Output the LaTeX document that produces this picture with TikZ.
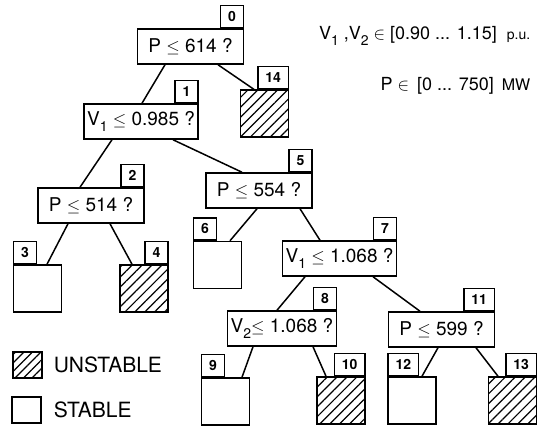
\documentclass[tikz,border=0pt]{standalone}
\usepackage{fontspec}
\setmainfont{TeX Gyre Heros}
\usetikzlibrary{patterns.meta}
\newcommand{\lowidx}[1]{\raisebox{-0.55ex}{\fontsize{14}{14}\selectfont #1}}

\begin{document}
\begin{tikzpicture}[x=1pt,y=1pt,line width=1.5pt]

%styles des noeuds
\tikzset{
    test/.style={draw, rectangle, minimum width=106pt, minimum height=35pt, inner sep=3pt, font=\fontsize{19}{22}\selectfont},
    leaf/.style={draw, rectangle, minimum width=48pt, minimum height=47pt, inner sep=0pt},
    hatch/.style={pattern={Lines[angle=45,distance=7pt,line width=1.2pt]}},
    num/.style={draw, rectangle, minimum height=22pt, inner xsep=7.5pt, inner ysep=1pt, font=\fontsize{14}{14}\selectfont\bfseries}
}

\useasboundingbox (0,0) rectangle (541,427);

%tests
\node[test] (n0) at (190.5,380.5) {P $\leq$ 614 ?};
\node[test] (n1) at (141,305.5) {V\lowidx{1} $\leq$ 0.985 ?};
\node[test] (n2) at (91,221.5) {P $\leq$ 514 ?};
\node[test] (n5) at (259,236.5) {P $\leq$ 554 ?};
\node[test] (n7) at (339.5,168.5) {V\lowidx{1} $\leq$ 1.068 ?};
\node[test] (n8) at (282,98.5) {V\lowidx{2}$\leq$ 1.068 ?};
\node[test] (n11) at (441.5,97.5) {P $\leq$ 599 ?};

%feuilles
\node[leaf,hatch] (t14) at (264.5,313.5) {};
\node[leaf] (t3) at (37.5,138.5) {};
\node[leaf,hatch] (t4) at (144,138.5) {};
\node[leaf] (t6) at (217.5,162) {};
\node[leaf] (t9) at (225.5,25.5) {};
\node[leaf,hatch] (t10) at (341,26.5) {};
\node[leaf] (t12) at (412,26.5) {};
\node[leaf,hatch] (t13) at (512.5,26.5) {};

%numeros
\node[num, anchor=south east] (l0) at (n0.north east) {0};
\node[num, anchor=south east] (l1) at (n1.north east) {1};
\node[num, anchor=south east] (l2) at (n2.north east) {2};
\node[num, anchor=south east] (l5) at (n5.north east) {5};
\node[num, anchor=south east] (l7) at (n7.north east) {7};
\node[num, anchor=south east] (l8) at (n8.north east) {8};
\node[num, anchor=south east] (l11) at (n11.north east) {11};
\node[num, anchor=south east] (l14) at (t14.north east) {14};
\node[num, anchor=south west] (l3) at (t3.north west) {3};
\node[num, anchor=south east] (l4) at (t4.north east) {4};
\node[num, anchor=south west] (l6) at (t6.north west) {6};
\node[num, anchor=south west] (l9) at (t9.north west) {9};
\node[num, anchor=south east] (l10) at (t10.north east) {10};
\node[num, anchor=south west] (l12) at (t12.north west) {12};
\node[num, anchor=south east] (l13) at (t13.north east) {13};

%branches
\draw ([xshift=-25.5]n0.south) -- ([xshift=1]n1.north);
\draw ([xshift=27.5]n0.south) -- ([xshift=-10.5]t14.north);
\draw ([xshift=-29]n1.south) -- ([xshift=-11]n2.north);
\draw ([xshift=32]n1.south) -- ([xshift=-17]n5.north);
\draw ([xshift=-23]n2.south) -- ([xshift=9.5]t3.north);
\draw ([xshift=19]n2.south) -- ([xshift=-12]t4.north);
\draw ([xshift=-2]n5.south) -- ([xshift=12.5]t6.north);
\draw ([xshift=41]n5.south) -- ([xshift=-19.5]n7.north);
\draw ([xshift=-34.5]n7.south) -- ([xshift=-5]n8.north);
\draw ([xshift=33.5]n7.south) -- ([xshift=-21.5]n11.north);
\draw ([xshift=-29]n8.south) -- ([xshift=16.5]t9.north);
\draw ([xshift=31]n8.south) -- ([xshift=-15]t10.north);
\draw ([xshift=-3.5]n11.south) -- ([xshift=10]t12.north);
\draw ([xshift=34.5]n11.south) -- ([xshift=-14.5]t13.north);

%legende
\node[draw, minimum width=29pt, minimum height=26pt, inner sep=0pt, pattern={Lines[angle=45,distance=6pt,line width=1.2pt]}] (kU) at (27.5,62) {};
\node[draw, minimum width=29pt, minimum height=26pt, inner sep=0pt] (kS) at (26.5,17) {};
\node[anchor=base west, inner sep=0pt, font=\fontsize{21}{24}\selectfont] (tU) at (53,54) {UNSTABLE};
\node[anchor=base west, inner sep=0pt, font=\fontsize{21}{24}\selectfont] (tS) at (53,9) {STABLE};

%domaines
\node[anchor=base east, inner sep=0pt, font=\fontsize{18}{20}\selectfont] (dV) at (531,387)
    {V\lowidx{1} ,V\lowidx{2} $\in$ [0.90 ... 1.15]\ \ {\fontsize{14}{14}\selectfont p.u.}};
\node[anchor=base east, inner sep=0pt, font=\fontsize{18}{20}\selectfont] (dP) at (531,336)
    {P $\in$ \,[0 ... 750]\, {\fontsize{16}{16}\selectfont MW}};

\end{tikzpicture}
\end{document}
